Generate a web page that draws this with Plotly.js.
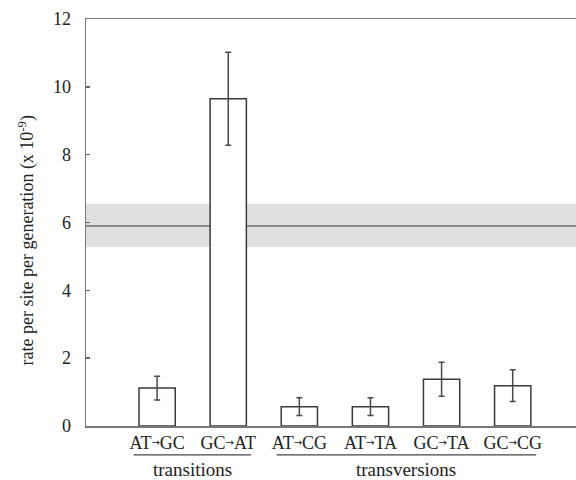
<!DOCTYPE html>
<html>
<head>
<meta charset="utf-8">
<script src="https://cdn.plot.ly/plotly-3.0.1.min.js"></script>
<style>html,body{margin:0;padding:0;background:#fff;}#chart{width:576px;height:480px;}</style>
</head>
<body>
<div id="chart"></div>
<script>
const categories = ["AT→GC", "GC→AT", "AT→CG", "AT→TA", "GC→TA", "GC→CG"];
const rates = [1.12, 9.65, 0.57, 0.57, 1.38, 1.19];
const errors = [0.35, 1.37, 0.26, 0.26, 0.50, 0.47];
const overallRate = [5.9];
const overallBand = [5.28, 6.55];
const groupNames = ["transitions", "transversions"];
const groupSpans = [[-0.33, 1.32], [1.68, 5.33]];
const yTitle = "rate per site per generation (x 10<sup>-9</sup>)";

const xIdx = categories.map((c, i) => i);
const serif = "Liberation Serif, Times New Roman, serif";
const tickText = categories.map(c => c.replace("→", "<span style=\"font-family:DejaVu Sans;font-size:10px;baseline-shift:3px\">→</span>"));

const trace = {
  type: "bar",
  x: xIdx,
  y: rates,
  width: 0.51,
  marker: {color: "#ffffff", line: {color: "#3a3a3a", width: 1.5}},
  error_y: {type: "data", array: errors, visible: true, color: "#4a4a4a", thickness: 1.5, width: 3},
  hoverinfo: "skip"
};

const shapes = [
  {type: "rect", xref: "paper", yref: "y", x0: 0, x1: 1, y0: overallBand[0], y1: overallBand[1],
   fillcolor: "#e0e0e0", line: {width: 0}, layer: "below"},
  {type: "line", xref: "paper", yref: "y", x0: 0, x1: 1, y0: overallRate[0], y1: overallRate[0],
   line: {color: "#6e6e6e", width: 1.5}, layer: "below"}
];
const annotations = [];
groupNames.forEach((g, i) => {
  shapes.push({type: "line", xref: "x", yref: "paper", x0: groupSpans[i][0], x1: groupSpans[i][1],
    y0: -0.071, y1: -0.071, line: {color: "#444", width: 1.3}});
  annotations.push({text: g, xref: "x", yref: "paper", x: (groupSpans[i][0] + groupSpans[i][1]) / 2,
    y: -0.107, showarrow: false, yanchor: "middle", font: {family: serif, size: 19, color: "#222"}});
});
annotations.push({text: yTitle, xref: "paper", yref: "paper", x: -0.121, y: 0.455, xanchor: "center", yanchor: "middle",
  textangle: -90, showarrow: false, font: {family: serif, size: 18, color: "#222"}});

const layout = {
  width: 576, height: 480,
  margin: {l: 86, r: 0, t: 19, b: 54},
  paper_bgcolor: "#fff", plot_bgcolor: "#fff",
  showlegend: false,
  xaxis: {
    range: [-1, 5.89], tickmode: "array", tickvals: xIdx, ticktext: tickText,
    showgrid: false, zeroline: false, showline: true, mirror: true, linecolor: "#777", linewidth: 1.5,
    ticks: "", tickfont: {family: serif, size: 18, color: "#222"}, ticklabelstandoff: 0
  },
  yaxis: {
    range: [0, 12], tickvals: [0, 2, 4, 6, 8, 10, 12],
    showgrid: false, zeroline: false, showline: true, linecolor: "#777", linewidth: 1.5,
    ticks: "inside", ticklen: 4, tickcolor: "#666", tickwidth: 1.5,
    tickfont: {family: serif, size: 18, color: "#222"}, ticklabelstandoff: 10
  },
  shapes: shapes,
  annotations: annotations
};

Plotly.newPlot("chart", [trace], layout, {displayModeBar: false, staticPlot: true});
</script>
</body>
</html>
